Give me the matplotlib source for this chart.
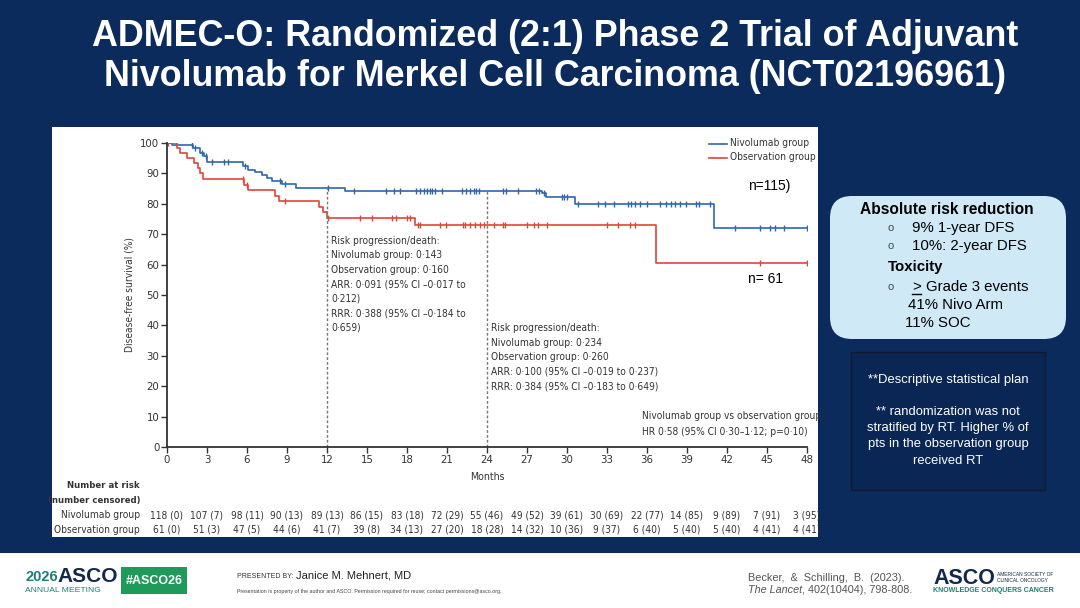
import numpy as np
from matplotlib import pyplot as plt
from matplotlib import font_manager
from matplotlib.patches import Rectangle, FancyBboxPatch

# ---- data ----
nivo_times = [0, 0.35, 1.95, 2.5, 2.75, 3.0, 5.7, 6.1, 6.6, 7.1, 7.5, 7.9, 8.6, 9.7,
              13.35, 28.1, 28.4, 30.6, 41.0, 48]
nivo_surv = [100, 99.2, 98.3, 96.7, 95.6, 93.6, 92.3, 91.2, 90.3, 89.5, 88.5, 87.4, 86.5,
             85.2, 84.3, 83.4, 82.3, 79.8, 71.9, 71.9]
obs_times = [0, 0.75, 1.0, 1.5, 2.0, 2.3, 2.5, 2.7, 5.8, 6.1, 8.1, 8.4, 11.4, 11.7, 12.0,
             18.6, 36.7, 48]
obs_surv = [100, 98.4, 96.7, 95.1, 93.4, 91.8, 90.2, 88.0, 86.3, 84.4, 82.6, 80.8, 79.0,
            77.2, 75.3, 73.0, 60.6, 60.6]

nivo_censored = [1.9, 2.1, 2.6, 2.9, 3.35, 4.3, 4.6, 5.85, 8.5, 8.85, 12.05, 14.0, 16.4,
                 17.0, 17.5, 18.7, 19.0, 19.3, 19.5, 19.7, 19.9, 20.1, 20.6, 22.1, 22.4,
                 22.7, 23.0, 23.2, 23.4, 25.2, 25.4, 26.35, 27.7, 27.9, 28.3, 29.6, 29.8,
                 30.0, 30.8, 32.35, 32.85, 33.5, 34.6, 34.8, 35.1, 35.5, 36.0, 37.0, 37.4,
                 37.8, 38.1, 38.5, 38.9, 39.7, 39.9, 40.7, 42.6, 44.5, 45.2, 45.6, 46.3, 48.0]
obs_censored = [0.1, 5.7, 6.0, 8.85, 12.1, 14.5, 15.35, 16.85, 17.2, 18.0, 18.2, 18.8, 19.0,
                20.5, 20.9, 22.2, 22.35, 22.7, 23.1, 23.5, 23.8, 24.5, 25.2, 25.35, 27.0,
                27.5, 27.85, 28.5, 33.0, 33.85, 34.7, 35.1, 44.5, 48.0]

risk_months = list(range(0, 49, 3))
nivo_at_risk = ["118 (0)", "107 (7)", "98 (11)", "90 (13)", "89 (13)", "86 (15)", "83 (18)",
                "72 (29)", "55 (46)", "49 (52)", "39 (61)", "30 (69)", "22 (77)", "14 (85)",
                "9 (89)", "7 (91)", "3 (95)"]
obs_at_risk = ["61 (0)", "51 (3)", "47 (5)", "44 (6)", "41 (7)", "39 (8)", "34 (13)",
               "27 (20)", "18 (28)", "14 (32)", "10 (36)", "9 (37)", "6 (40)", "5 (40)",
               "5 (40)", "4 (41)", "4 (41)"]

note_12 = ["Risk progression/death:", "Nivolumab group: 0·143", "Observation group: 0·160",
           "ARR: 0·091 (95% CI –0·017 to", "0·212)", "RRR: 0·388 (95% CI –0·184 to",
           "0·659)"]
note_24 = ["Risk progression/death:", "Nivolumab group: 0·234", "Observation group: 0·260",
           "ARR: 0·100 (95% CI –0·019 to 0·237)", "RRR: 0·384 (95% CI –0·183 to 0·649)"]
hr_note = ["Nivolumab group vs observation group", "HR 0·58 (95% CI 0·30–1·12; p=0·10)"]

NAVY = "#0c2b5d"
BLUE = "#2d66ab"
RED = "#e2443b"
GREY = "#333333"
SANS = ["Liberation Sans", "DejaVu Sans"]
FS = 7.3  # journal figure text size

# pick the narrowest installed face for the journal-figure text
fonts = font_manager.fontManager.ttflist
if any(f.name == "Liberation Sans Narrow" for f in fonts):
    NARROW = dict(family=["Liberation Sans Narrow", "DejaVu Sans"])
elif any(f.name == "DejaVu Sans" and "ondensed" in str(f.stretch) for f in fonts):
    NARROW = dict(family=["DejaVu Sans"], stretch="condensed")
elif any(f.name == "DejaVu Sans" and f.stretch == 500 for f in fonts):
    NARROW = dict(family=["DejaVu Sans"], stretch="condensed")
else:
    NARROW = dict(family=["Lato", "DejaVu Sans"])

W, H = 1080, 608
fig = plt.figure(figsize=(W / 100, H / 100), dpi=100)
fig.patch.set_facecolor(NAVY)

# pixel canvas for the slide decoration
bg = fig.add_axes([0, 0, 1, 1])
bg.set_xlim(0, W)
bg.set_ylim(H, 0)
bg.axis("off")

# title
bg.text(555, 37, "ADMEC-O: Randomized (2:1) Phase 2 Trial of Adjuvant", color="white",
        fontsize=25.8, fontweight="bold", ha="center", va="center", family=SANS)
bg.text(555, 77, "Nivolumab for Merkel Cell Carcinoma (NCT02196961)", color="white",
        fontsize=25.8, fontweight="bold", ha="center", va="center", family=SANS)

# white chart panel
bg.add_patch(Rectangle((52, 127), 766, 410, facecolor="white", edgecolor="none"))

# footer
bg.add_patch(Rectangle((0, 553), W, 55, facecolor="white", edgecolor="none"))
bg.text(25, 577, "2026", color="#1b7f73", fontsize=10.5, fontweight="bold", va="center",
        family=SANS)
bg.text(57, 577, "ASCO", color="#13294b", fontsize=15, fontweight="bold", va="center",
        family=SANS)
bg.text(25, 591, "ANNUAL MEETING", color="#1b7f73", fontsize=6.1, va="center", family=SANS)
bg.add_patch(Rectangle((121, 567), 66, 27, facecolor="#1f9a5b", edgecolor="none"))
bg.text(154, 580.5, "#ASCO26", color="white", fontsize=9, fontweight="bold", ha="center",
        va="center", family=SANS)
bg.text(237, 576, "PRESENTED BY:", color="#333333", fontsize=5, va="center", family=SANS)
bg.text(296, 575, "Janice M. Mehnert, MD", color="#222222", fontsize=8, va="center",
        family=SANS)
bg.text(237, 591, "Presentation is property of the author and ASCO. Permission required for "
        "reuse; contact permissions@asco.org.", color="#444444", fontsize=3.8, va="center",
        family=SANS)
bg.text(748, 578, "Becker,  &  Schilling,  B.  (2023).", color="#555555", fontsize=7.8,
        va="center", family=SANS)
lancet = bg.text(748, 590, "The Lancet", color="#555555", fontsize=7.8, va="center",
                 style="italic", family=SANS)
fig.canvas.draw()
lancet_end = bg.transData.inverted().transform(lancet.get_window_extent().corners()[-1])[0]
bg.text(lancet_end, 590, ", 402(10404), 798-808.", color="#555555", fontsize=7.8,
        va="center", family=SANS)
bg.text(933, 578, "ASCO", color="#13294b", fontsize=15.5, fontweight="bold", va="center",
        family=SANS)
bg.text(997, 574, "AMERICAN SOCIETY OF", color="#13294b", fontsize=3.5, va="center",
        family=SANS)
bg.text(997, 580, "CLINICAL ONCOLOGY", color="#13294b", fontsize=3.5, va="center",
        family=SANS)
bg.text(933, 591, "KNOWLEDGE CONQUERS CANCER", color="#1b7f73", fontsize=5,
        fontweight="bold", va="center", family=SANS)

# right-hand boxes
bg.add_patch(FancyBboxPatch((830, 196), 236, 143, boxstyle="round,pad=0,rounding_size=22",
                            facecolor="#cfe9f7", edgecolor="none"))
bg.text(947, 210, "Absolute risk reduction", fontsize=11.2, fontweight="bold",
        ha="center", va="center", family=SANS)
for y, s in [(228, "9% 1-year DFS"), (246, "10%: 2-year DFS")]:
    bg.text(888, y, "o", fontsize=8, va="center", color="#444444", family=SANS)
    bg.text(912, y, s, fontsize=10.8, va="center", family=SANS)
bg.text(888, 267, "Toxicity", fontsize=10.8, fontweight="bold", va="center", family=SANS)
bg.text(888, 287, "o", fontsize=8, va="center", color="#444444", family=SANS)
bg.text(912, 287, ">", fontsize=10.8, va="center", family=SANS)
bg.plot([912, 921], [294, 294], color="black", lw=1)
bg.text(926, 287, "Grade 3 events", fontsize=10.8, va="center", family=SANS)
bg.text(908, 305, "41% Nivo Arm", fontsize=10.8, va="center", family=SANS)
bg.text(905, 323, "11% SOC", fontsize=10.8, va="center", family=SANS)

bg.add_patch(Rectangle((851, 352), 194, 138, facecolor="#0a2654", edgecolor="#111a2e", lw=1))
dark_lines = [(380, "**Descriptive statistical plan"), (412, "** randomization was not"),
              (428, "stratified by RT. Higher % of"), (444, "pts in the observation group"),
              (461, "received RT")]
for y, s in dark_lines:
    bg.text(948, y, s, fontsize=9.4, color="white", ha="center", va="center", family=SANS)

# ---- Kaplan-Meier plot ----
ax = fig.add_axes([167 / W, 1 - 447 / H, 640 / W, 304 / H])
ax.patch.set_alpha(0)


def surv_at(times, surv, t):
    idx = np.searchsorted(times, t, side="right") - 1
    return np.asarray(surv)[idx]


ax.step(nivo_times, nivo_surv, where="post", color=BLUE, lw=1.2)
ax.step(obs_times, obs_surv, where="post", color=RED, lw=1.2)
ax.plot(nivo_censored, surv_at(nivo_times, nivo_surv, nivo_censored), ls="none",
        marker="|", ms=5, mew=1, color=BLUE)
ax.plot(obs_censored, surv_at(obs_times, obs_surv, obs_censored), ls="none",
        marker="|", ms=5, mew=1, color=RED)

for m in (12, 24):
    ax.vlines(m, 0, surv_at(nivo_times, nivo_surv, m), colors="#777777", lw=1,
              linestyles=(0, (2, 1.5)))

ax.set_xlim(0, 48)
ax.set_ylim(0, 100)
ax.set_xticks(risk_months)
ax.set_yticks(range(0, 101, 10))
ax.tick_params(labelsize=8.2, colors=GREY, length=4, width=1, pad=1.5)
for lab in ax.get_xticklabels() + ax.get_yticklabels():
    lab.set_family(NARROW["family"])
    if "stretch" in NARROW:
        lab.set_stretch(NARROW["stretch"])
for side in ("top", "right"):
    ax.spines[side].set_visible(False)
for side in ("left", "bottom"):
    ax.spines[side].set_color(GREY)
    ax.spines[side].set_linewidth(1.3)

# legend, drawn by hand to sit where the journal put it
for y, c, s in [(143.5, BLUE, "Nivolumab group"), (157.5, RED, "Observation group")]:
    bg.plot([709, 727], [y, y], color=c, lw=1.2)
    bg.text(730, y, s, fontsize=FS, color=GREY, va="center", **NARROW)

for i, s in enumerate(note_12):
    ax.text(12.3, 67.8 - i * 4.77, s, fontsize=FS, color=GREY, va="center", **NARROW)
for i, s in enumerate(note_24):
    ax.text(24.3, 39.1 - i * 4.77, s, fontsize=FS, color=GREY, va="center", **NARROW)
for i, s in enumerate(hr_note):
    ax.text(35.6, 10.2 - i * 5.2, s, fontsize=FS, color=GREY, va="center", **NARROW)

ax.text(43.6, 85.9, "n=115)", fontsize=10, va="center", family=SANS)
ax.text(43.6, 55.3, "n= 61", fontsize=10, va="center", family=SANS)

bg.text(130, 295, "Disease-free survival (%)", rotation=90, fontsize=FS, color=GREY,
        ha="center", va="center", **NARROW)
bg.text(487, 477, "Months", fontsize=7.6, color=GREY, ha="center", va="center", **NARROW)

# number at risk table
row_labels = [(485, "Number at risk", "bold", 6.8), (500, "(number censored)", "bold", 6.8),
              (515, "Nivolumab group", "normal", FS),
              (530, "Observation group", "normal", FS)]
for y, s, wt, size in row_labels:
    bg.text(140, y, s, fontsize=size, fontweight=wt, color=GREY, ha="right", va="center",
            **NARROW)
row_trans = ax.get_xaxis_transform()
for m, s_n, s_o in zip(risk_months, nivo_at_risk, obs_at_risk):
    ax.text(m, (447 - 515) / 304, s_n, transform=row_trans, fontsize=FS, color=GREY,
            ha="center", va="center", clip_on=False, **NARROW)
    ax.text(m, (447 - 530) / 304, s_o, transform=row_trans, fontsize=FS, color=GREY,
            ha="center", va="center", clip_on=False, **NARROW)

fig.savefig("out.png", dpi=100, facecolor=fig.get_facecolor())
